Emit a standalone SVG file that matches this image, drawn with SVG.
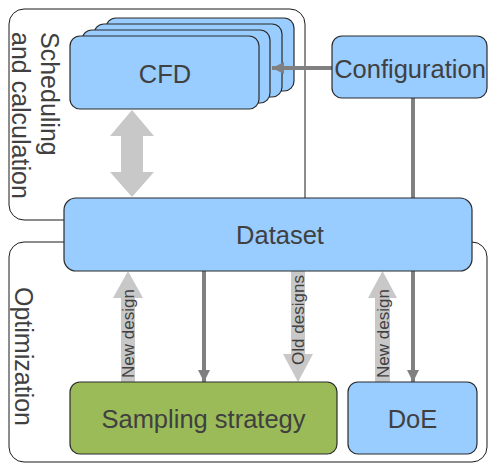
<svg xmlns="http://www.w3.org/2000/svg" width="489" height="464" viewBox="0 0 489 464">
  <style>
    .frame { fill: none; stroke: #1a1a1a; stroke-width: 1; }
    .box { fill: #99ccff; stroke: #2b2b2b; stroke-width: 1.2; }
    .green { fill: #9bbb59; stroke: #2b2b2b; stroke-width: 1.2; }
    .label { font-family: "Liberation Sans", Arial, sans-serif; font-size: 25.5px; fill: #404040; text-anchor: middle; }
    .side { font-family: "Liberation Sans", Arial, sans-serif; font-size: 25px; fill: #404040; }
    .small { font-family: "Liberation Sans", Arial, sans-serif; font-size: 17px; fill: #404040; text-anchor: middle; }
    .line { fill: none; stroke: #808080; stroke-width: 4; }
    .block { fill: #c8c8c8; }
  </style>
  <defs>
    <marker id="head" markerUnits="userSpaceOnUse" markerWidth="14" markerHeight="12" refX="12" refY="6" orient="auto">
      <path d="M0,0 L12,6 L0,12 Z" fill="#808080"/>
    </marker>
  </defs>

  <!-- group frames -->
  <g id="scheduling-frame">
    <rect class="frame" x="9" y="9" width="296" height="211" rx="15"/>
    <text class="side" transform="translate(41,32) rotate(90)">Scheduling</text>
    <text class="side" transform="translate(12,32) rotate(90)">and calculation</text>
  </g>
  <g id="optimization-frame">
    <rect class="frame" x="9" y="242" width="478" height="220" rx="15"/>
    <text class="side" transform="translate(15,287) rotate(90)">Optimization</text>
  </g>

  <!-- connectors -->
  <g id="connectors">
    <line class="line" x1="413" y1="98" x2="413" y2="382" marker-end="url(#head)"/>
    <line class="line" x1="204" y1="271" x2="204" y2="382" marker-end="url(#head)"/>
    <polygon class="block" points="132,110 154,136 143,136 143,172 154,172 132,197 110,172 121,172 121,136 110,136"/>
    <polygon class="block" points="128,271 143,298 135,298 135,382 121,382 121,298 113,298"/>
    <polygon class="block" points="291,271 305,271 305,354 313,354 298,382 283,354 291,354"/>
    <polygon class="block" points="382.5,271 397,298 390,298 390,382 375,382 375,298 368,298"/>
    <text class="small" transform="translate(134,333.5) rotate(-90)">New design</text>
    <text class="small" transform="translate(304,320) rotate(-90)">Old designs</text>
    <text class="small" transform="translate(389,333.5) rotate(-90)">New design</text>
  </g>

  <g id="cfd">
    <rect class="box" x="106" y="18" width="188" height="73" rx="10"/>
    <rect class="box" x="94" y="24" width="188" height="73" rx="10"/>
    <rect class="box" x="82" y="30" width="188" height="73" rx="10"/>
    <line class="line" x1="332" y1="68" x2="272" y2="68" marker-end="url(#head)"/>
    <rect class="box" x="70" y="36" width="189" height="73" rx="10"/>
    <text class="label" x="165" y="83">CFD</text>
  </g>

  <g id="configuration">
    <rect class="box" x="332" y="36" width="155" height="62" rx="10"/>
    <text class="label" x="410" y="78">Configuration</text>
  </g>

  <g id="dataset">
    <rect class="box" x="64" y="198" width="408" height="73" rx="12"/>
    <text class="label" x="280" y="244">Dataset</text>
  </g>

  <g id="sampling-strategy">
    <rect class="green" x="70" y="382" width="267" height="72" rx="10"/>
    <text class="label" x="203.5" y="428">Sampling strategy</text>
  </g>

  <g id="doe">
    <rect class="box" x="348" y="382" width="129" height="72" rx="10"/>
    <text class="label" x="412.5" y="428">DoE</text>
  </g>
</svg>
